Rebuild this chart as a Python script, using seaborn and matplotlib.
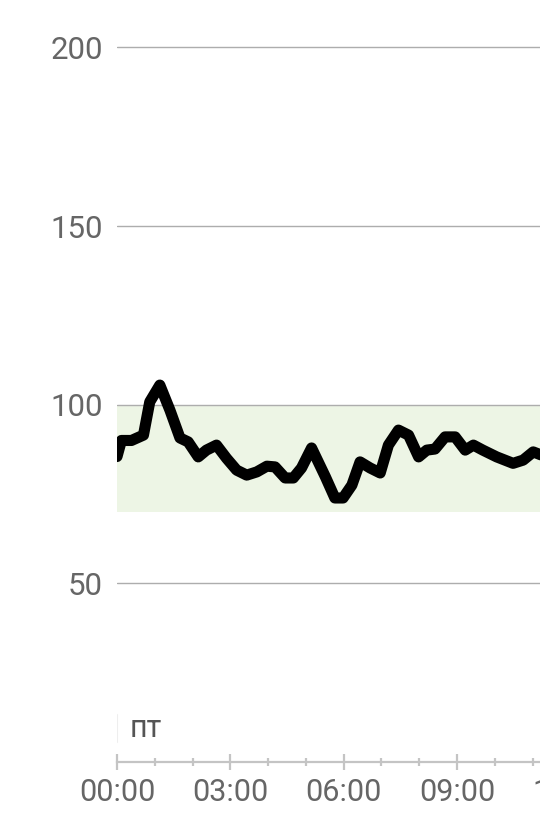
import numpy as np
import pandas as pd
import seaborn as sns
import matplotlib.pyplot as plt

# glucose readings, one day (friday), time of day -> mg/dL
times = ["00:00", "00:07", "00:23", "00:42", "00:52", "01:08", "01:24", "01:40",
         "01:53", "02:09", "02:22", "02:38", "02:54", "03:10", "03:26", "03:42",
         "03:58", "04:11", "04:27", "04:40", "04:53", "05:09", "05:31", "05:46",
         "05:59", "06:13", "06:26", "06:42", "06:58", "07:11", "07:27", "07:43",
         "07:59", "08:12", "08:25", "08:41", "08:57", "09:13", "09:26", "09:41",
         "10:03", "10:29", "10:45", "11:01", "11:20"]
glucose = [85.5, 90, 90, 91.5, 100.8, 105.5, 98.5, 90.7,
           89.6, 85.4, 87.3, 88.7, 85, 81.7, 80.3, 81.2,
           82.8, 82.6, 79.5, 79.5, 82.3, 87.9, 79.8, 73.9,
           73.9, 77.5, 84, 82.3, 80.9, 88.7, 92.9, 91.5,
           85.4, 87.3, 87.6, 91, 91, 87.3, 88.7, 87.3,
           85.4, 83.6, 84.5, 86.8, 85.5]
target_low, target_high = 70, 100
y_ticks = [50, 100, 150, 200]
x_ticks = [0, 3, 6, 9, 12]
x_labels = ["00:00", "03:00", "06:00", "09:00", "12:00"]
day_label = "пт"

df = pd.DataFrame({"time": times, "glucose": glucose})
td = pd.to_timedelta(df["time"] + ":00")
df["hours"] = td.dt.total_seconds() / 3600

sns.set_style("white")
plt.rcParams["font.family"] = ["Roboto", "DejaVu Sans"]

fig = plt.figure(figsize=(5.4, 8.31), dpi=100)
ax = fig.add_axes([0.2167, 0.083, 0.8745, 0.8814])

ax.axhspan(target_low, target_high, color="#edf5e5", zorder=0.3, lw=0)
sns.lineplot(data=df, x="hours", y="glucose", ax=ax, color="black", lw=8,
             solid_joinstyle="round", solid_capstyle="round", zorder=3)

ax.set_xlim(0, 12.5)
ax.set_ylim(0, 205)
ax.set_yticks(y_ticks)
ax.set_yticklabels([str(v) for v in y_ticks])
ax.set_xticks(x_ticks)
ax.set_xticklabels(x_labels)
ax.set_xticks(np.arange(0, 13, 1), minor=True)

ax.grid(axis="y", color="#adadad", lw=1)
ax.grid(axis="x", visible=False)
ax.set_axisbelow(True)

for s in ["top", "right", "left"]:
    ax.spines[s].set_visible(False)
ax.spines["bottom"].set_color("#c4c4c4")
ax.spines["bottom"].set_linewidth(1.6)

ax.tick_params(axis="y", length=0, pad=10, labelsize=22.5, labelcolor="#666666")
ax.tick_params(axis="x", which="both", bottom=True)
ax.tick_params(axis="x", which="major", direction="inout", length=11, width=1.6,
               color="#c4c4c4", pad=6, labelsize=22, labelcolor="#666666")
ax.tick_params(axis="x", which="minor", direction="inout", length=6, width=1.6,
               color="#c4c4c4")

ax.set_xlabel("")
ax.set_ylabel("")

# day marker
ax.plot([0, 0], [5.6, 13.2], color="#eeeeee", lw=1.5)
ax.text(0.33, 9.5, day_label, fontsize=22, color="#555555", va="center", ha="left")

fig.savefig("out.png", dpi=100)
